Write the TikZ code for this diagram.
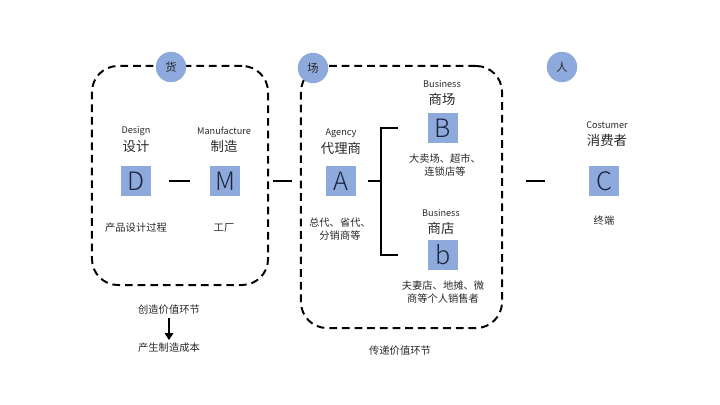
\documentclass[tikz,border=0pt]{standalone}
\usepackage{fontspec}
\setmainfont{Noto Sans CJK SC}
\newfontfamily\rolefont{Noto Sans CJK SC Light}
\usetikzlibrary{arrows.meta}
\definecolor{tagblue}{RGB}{142,169,219}
\definecolor{inkblue}{RGB}{28,36,62}
\definecolor{txtgray}{RGB}{40,40,40}
\begin{document}
\begin{tikzpicture}[x=0.025cm,y=-0.025cm,
    every node/.style={inner sep=1pt,text=txtgray},
    stage/.style={draw,line width=1.4pt,dash pattern=on 5.5pt off 3.5pt,rounded corners=0.65cm},
    tag/.style={circle,fill=tagblue,minimum size=0.76cm,font=\fontsize{8}{9}\selectfont},
    role/.style={fill=tagblue,minimum size=0.76cm,inner sep=0pt,text=inkblue,font=\rolefont\fontsize{18}{18}\selectfont},
    en/.style={font=\fontsize{6.5}{7}\selectfont},
    zh/.style={font=\fontsize{9.5}{10}\selectfont},
    note/.style={font=\fontsize{7.3}{9.5}\selectfont,align=center}]
      \useasboundingbox (0,0) rectangle (720,405);

      % dashed stages
      \node[stage,minimum width=4.4cm,minimum height=5.475cm] (huo) at (180,175.5) {};
      \node[stage,minimum width=5.025cm,minimum height=6.55cm] (chang) at (401.5,197) {};

      \node[tag] (thuo) at (171,67) {货};
      \node[tag] (tchang) at (313,68) {场};
      \node[tag] (tren) at (562,67) {人};

      % roles
      \node[role] (D) at (136,181) {D};
      \node[role] (M) at (225,181) {M};
      \node[role] (A) at (341,181) {A};
      \node[role] (B) at (443,128) {B};
      \node[role] (b) at (443,255) {b};
      \node[role] (C) at (604,181) {C};

      \node[en] (Den) at (136,131) {Design};
      \node[zh] (Dzh) at (136,146) {设计};
      \node[en] (Men) at (224,131) {Manufacture};
      \node[zh] (Mzh) at (224,146) {制造};
      \node[en] (Aen) at (341,133) {Agency};
      \node[zh] (Azh) at (341,148) {代理商};
      \node[en] (Ben) at (442,84) {Business};
      \node[zh] (Bzh) at (442,99) {商场};
      \node[en] (ben) at (441,213) {Business};
      \node[zh] (bzh) at (441,228) {商店};
      \node[en] (Cen) at (607,125) {Costumer};
      \node[zh] (Czh) at (607,140) {消费者};

      \node[note] (Dnote) at (136,228) {产品设计过程};
      \node[note] (Mnote) at (224,228) {工厂};
      \node[note] (Anote) at (340,229) {总代、省代、\\分销商等};
      \node[note] (Bnote) at (445,165) {大卖场、超市、\\连锁店等};
      \node[note] (bnote) at (443,292) {夫妻店、地摊、微\\商等个人销售者};
      \node[note] (Cnote) at (604,221) {终端};

      \node[note] (create) at (169,310) {创造价值环节};
      \node[note] (cost) at (169,348) {产生制造成本};
      \node[note] (pass) at (400,351) {传递价值环节};

      % connectors
      \draw[line width=1.2pt,shorten <=0.43cm,shorten >=0.5cm] (D) -- (M);
      \draw[line width=1.2pt,shorten <=0.1cm,shorten >=0.2cm] (D -| huo.east) -- (D -| chang.west);
      \draw[line width=1.2pt,shorten <=0.58cm,shorten >=1.1cm] (C -| chang.east) -- (C.west);
      \coordinate (fork) at (381,181);
      \draw[line width=1.2pt,shorten <=0.3cm] (A.east) -- (fork);
      \draw[line width=1.2pt,shorten <=0.75cm,shorten >=0.75cm] (B.west) -- (fork |- B) -- (fork |- b) -- (b.west);
      \draw[line width=1.6pt,-{Triangle[length=5pt,width=6pt]},shorten <=1pt,shorten >=1pt] (create) -- (cost);
    \end{tikzpicture}
\end{document}
